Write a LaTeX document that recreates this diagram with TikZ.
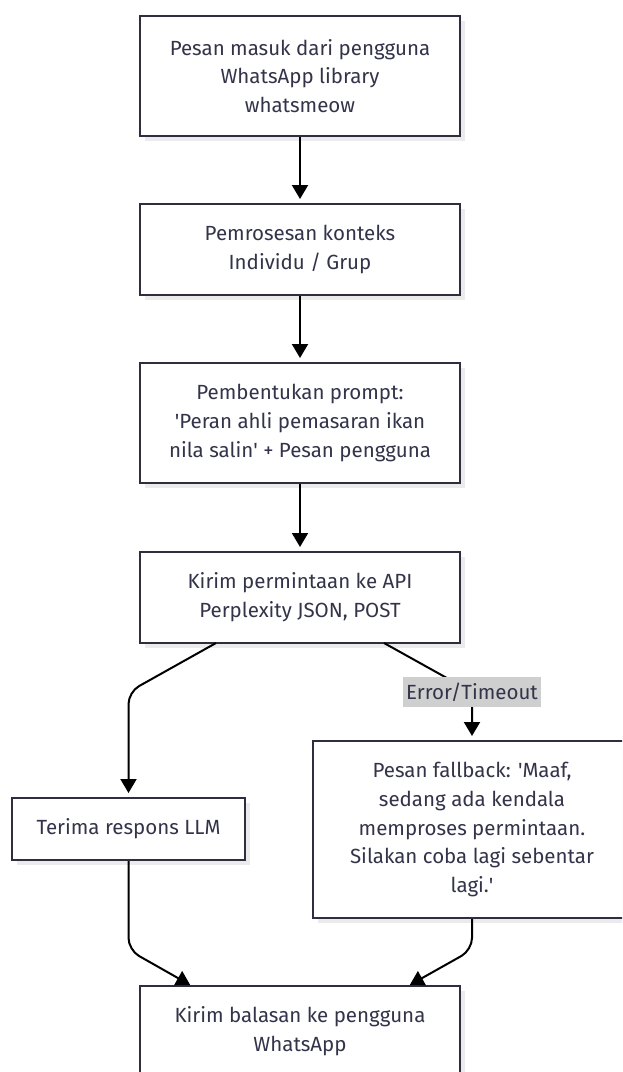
\documentclass[tikz,border=0pt]{standalone}
\usepackage{fontspec}
\setmainfont{Fira Sans}
\usetikzlibrary{arrows.meta,shadows}
\definecolor{boxline}{HTML}{2E2E40}
\definecolor{boxtext}{HTML}{33334A}
\definecolor{shadowc}{HTML}{EBEBEB}
\definecolor{labelbg}{HTML}{CFCFCF}
\tikzset{
  flowbox/.style={draw=boxline, line width=2pt, fill=white, rectangle,
    text=boxtext, align=center, inner sep=0pt,
    font=\fontsize{20.5}{28.8}\selectfont,
    drop shadow={shadow xshift=5pt, shadow yshift=-5pt, opacity=1, fill=shadowc}},
  flowarrow/.style={draw=black, line width=2pt,
    -{Triangle[width=16pt,length=14pt]}, shorten >=4pt, rounded corners=12pt},
  edgelabel/.style={fill=labelbg, text=boxtext, inner xsep=3pt, inner ysep=2pt,
    minimum height=30pt, font=\fontsize{20.5}{24}\selectfont}
}
\begin{document}
\begin{tikzpicture}[x=1pt,y=-1pt]
\clip (0,0) rectangle (622,1072);
\fill[white] (0,0) rectangle (622,1072);

\node[flowbox, minimum width=320pt, minimum height=120pt] (n1) at (300,76)
  {Pesan masuk dari pengguna\\WhatsApp library\\whatsmeow};
\node[flowbox, minimum width=320pt, minimum height=91pt] (n2) at (300,249.5)
  {Pemrosesan konteks\\Individu / Grup};
\node[flowbox, minimum width=320pt, minimum height=120pt] (n3) at (300,423)
  {Pembentukan prompt:\\\textquotesingle Peran ahli pemasaran ikan\\nila salin\textquotesingle{} + Pesan pengguna};
\node[flowbox, minimum width=320pt, minimum height=91pt] (n4) at (300,597.5)
  {Kirim permintaan ke API\\Perplexity JSON, POST};
\node[flowbox, minimum width=233pt, minimum height=62pt] (n5) at (128.5,829)
  {Terima respons LLM};
\node[flowbox, minimum width=318pt, minimum height=177pt] (n6) at (472,829.5)
  {Pesan fallback: \textquotesingle Maaf,\\sedang ada kendala\\memproses permintaan.\\Silakan coba lagi sebentar\\lagi.\textquotesingle};
\node[flowbox, minimum width=320pt, minimum height=91pt] (n7) at (300,1031.5)
  {Kirim balasan ke pengguna\\WhatsApp};

\coordinate (b4l) at (216,643);
\coordinate (b4r) at (384,643);
\coordinate (kl) at (128.5,692);
\coordinate (kr) at (472,692);
\coordinate (k5) at (128.5,950);
\coordinate (k6) at (472,950);
\coordinate (t7l) at (192,986);
\coordinate (t7r) at (408,986);

\draw[flowarrow] (n1.south) -- (n2.north);
\draw[flowarrow] (n2.south) -- (n3.north);
\draw[flowarrow] (n3.south) -- (n4.north);
\draw[flowarrow] (b4l) -- (kl) -- (n5.north);
\draw[flowarrow] (b4r) -- (kr) -- (n6.north);
\draw[flowarrow, shorten >=2pt] (n5.south) -- (k5) -- (t7l);
\draw[flowarrow, shorten >=2pt] (n6.south) -- (k6) -- (t7r);

\node[edgelabel] (lbl) at (472,692) {Error/Timeout};
\end{tikzpicture}
\end{document}
